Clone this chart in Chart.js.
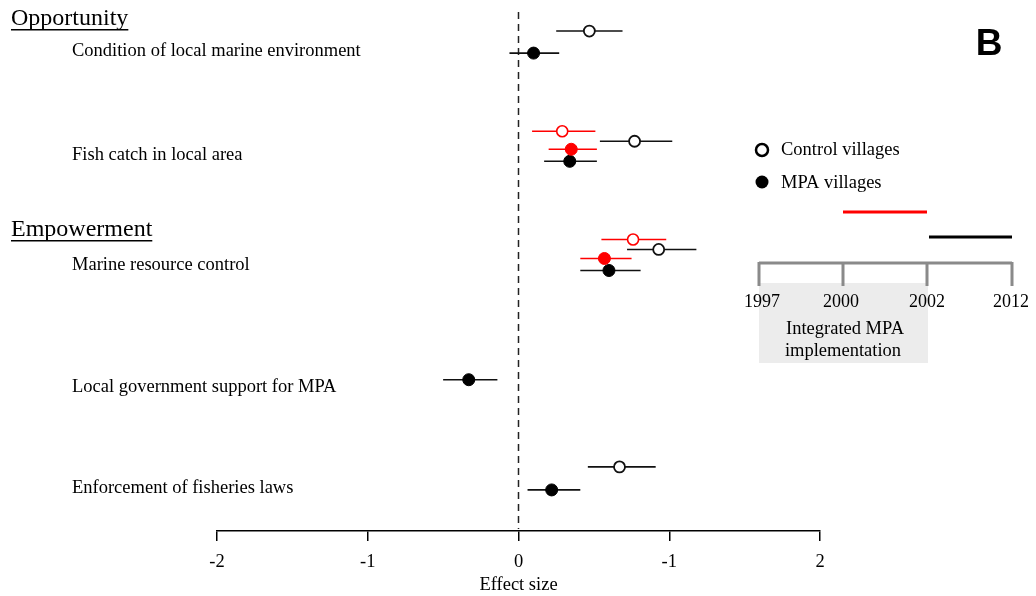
<!DOCTYPE html>
<html>
<head>
<meta charset="utf-8">
<script src="https://cdn.jsdelivr.net/npm/chart.js@4"></script>
<style>
  body { margin: 0; background: #fff; }
  #wrap { width: 1036px; height: 596px; position: relative; }
</style>
</head>
<body>
<div id="wrap"><canvas id="myChart"></canvas></div>
<script>
// Forest plot of effect sizes, control vs MPA villages

const categories = [
  "Condition of local marine environment",
  "Fish catch in local area",
  "Marine resource control",
  "Local government support for MPA",
  "Enforcement of fisheries laws",
];
const groupHeaders = ["Opportunity", "Empowerment"];

// black series (2012 survey)
const controlEst = [0.47, 0.77, 0.93, null, 0.67];
const controlLo = [0.25, 0.54, 0.72, null, 0.46];
const controlHi = [0.69, 1.02, 1.18, null, 0.91];
const mpaEst = [0.1, 0.34, 0.6, -0.33, 0.22];
const mpaLo = [-0.06, 0.17, 0.41, -0.5, 0.06];
const mpaHi = [0.27, 0.52, 0.81, -0.14, 0.41];

// red series (2000-2002)
const controlEarlyEst = [null, 0.29, 0.76, null, null];
const controlEarlyLo = [null, 0.09, 0.55, null, null];
const controlEarlyHi = [null, 0.51, 0.98, null, null];
const mpaEarlyEst = [null, 0.35, 0.57, null, null];
const mpaEarlyLo = [null, 0.2, 0.41, null, null];
const mpaEarlyHi = [null, 0.52, 0.75, null, null];

const xTickLabels = ["-2", "-1", "0", "-1", "2"];
const timelineYears = ["1997", "2000", "2002", "2012"];

// layout: row of each category on the (reversed) y scale, and each series' shift from it
const rowPos = [51, 155, 265, 386, 487];
const controlShift = [-20, -14, -16, 0, -21];
const mpaShift = [2, 6, 5, -7, 2];
const controlEarlyShift = [0, -24, -26, 0, 0];
const mpaEarlyShift = [0, -6, -7, 0, 0];

const RED = "#ff0000";
const serif = "'Liberation Serif', 'Times New Roman', serif";

function makePoints(est, lo, hi, shift) {
  const pts = [];
  est.forEach((v, i) => {
    if (v === null) return;
    pts.push({ x: v, y: rowPos[i] + shift[i], lo: lo[i], hi: hi[i] });
  });
  return pts;
}

const datasets = [
  {
    label: "Control villages (2000-2002)",
    data: makePoints(controlEarlyEst, controlEarlyLo, controlEarlyHi, controlEarlyShift),
    pointRadius: 5.5,
    pointBorderWidth: 1.6,
    pointBorderColor: RED,
    pointBackgroundColor: "#fff",
    barColor: RED,
  },
  {
    label: "Control villages",
    data: makePoints(controlEst, controlLo, controlHi, controlShift),
    pointRadius: 5.5,
    pointBorderWidth: 1.8,
    pointBorderColor: "#111",
    pointBackgroundColor: "#fff",
    barColor: "#111",
  },
  {
    label: "MPA villages (2000-2002)",
    data: makePoints(mpaEarlyEst, mpaEarlyLo, mpaEarlyHi, mpaEarlyShift),
    pointRadius: 6,
    pointBorderWidth: 1,
    pointBorderColor: RED,
    pointBackgroundColor: RED,
    barColor: RED,
  },
  {
    label: "MPA villages",
    data: makePoints(mpaEst, mpaLo, mpaHi, mpaShift),
    pointRadius: 6,
    pointBorderWidth: 1,
    pointBorderColor: "#000",
    pointBackgroundColor: "#000",
    barColor: "#111",
  },
];

// error bars + zero line, drawn through the scales
const errorBars = {
  id: "errorBars",
  beforeDatasetsDraw(chart) {
    const { ctx, scales } = chart;
    const x = scales.x;
    const y = scales.y;
    ctx.save();
    // dashed zero line
    ctx.strokeStyle = "#222";
    ctx.lineWidth = 1.5;
    ctx.setLineDash([7, 5]);
    ctx.beginPath();
    ctx.moveTo(x.getPixelForValue(0), y.getPixelForValue(12));
    ctx.lineTo(x.getPixelForValue(0), y.getPixelForValue(528));
    ctx.stroke();
    ctx.setLineDash([]);
    chart.data.datasets.forEach((ds) => {
      ctx.strokeStyle = ds.barColor;
      ctx.lineWidth = 1.6;
      ds.data.forEach((p) => {
        const py = y.getPixelForValue(p.y);
        ctx.beginPath();
        ctx.moveTo(x.getPixelForValue(p.lo), py);
        ctx.lineTo(x.getPixelForValue(p.hi), py);
        ctx.stroke();
      });
    });
    ctx.restore();
  },
};

// row labels, headers, legend and timeline inset
const annotations = {
  id: "annotations",
  afterDraw(chart) {
    const { ctx, scales } = chart;
    const y = scales.y;
    ctx.save();
    ctx.fillStyle = "#000";
    ctx.textBaseline = "middle";
    ctx.textAlign = "left";

    ctx.font = "24px " + serif;
    const headerY = [19, 230];
    groupHeaders.forEach((h, i) => {
      ctx.fillText(h, 11, headerY[i]);
      const w = ctx.measureText(h).width;
      ctx.fillRect(11, headerY[i] + 10, w, 1.5);
    });

    ctx.font = "18.5px " + serif;
    categories.forEach((c, i) => {
      ctx.fillText(c, 72, y.getPixelForValue(rowPos[i]));
    });

    // legend
    ctx.beginPath();
    ctx.arc(762, 150, 6, 0, Math.PI * 2);
    ctx.lineWidth = 2.5;
    ctx.strokeStyle = "#000";
    ctx.stroke();
    ctx.beginPath();
    ctx.arc(762, 182, 6.5, 0, Math.PI * 2);
    ctx.fill();
    ctx.fillText("Control villages", 781, 150);
    ctx.fillText("MPA villages", 781, 183);

    // timeline inset
    const tx = [759, 843, 927, 1012];
    const labelX = [762, 841, 927, 1011];
    ctx.fillStyle = "#ececec";
    ctx.fillRect(759, 283, 169, 80);
    ctx.lineWidth = 3;
    ctx.strokeStyle = RED;
    ctx.beginPath();
    ctx.moveTo(843, 212);
    ctx.lineTo(927, 212);
    ctx.stroke();
    ctx.strokeStyle = "#000";
    ctx.beginPath();
    ctx.moveTo(929, 237);
    ctx.lineTo(1012, 237);
    ctx.stroke();
    ctx.strokeStyle = "#8a8a8a";
    ctx.beginPath();
    ctx.moveTo(759, 263);
    ctx.lineTo(1012, 263);
    tx.forEach((v) => {
      ctx.moveTo(v, 262);
      ctx.lineTo(v, 286);
    });
    ctx.stroke();
    ctx.fillStyle = "#000";
    ctx.textAlign = "center";
    ctx.font = "18px " + serif;
    timelineYears.forEach((yr, i) => {
      ctx.fillText(yr, labelX[i], 302);
    });
    ctx.font = "18.5px " + serif;
    ctx.fillText("Integrated MPA", 845, 329);
    ctx.fillText("implementation", 843, 351);

    // panel letter
    ctx.font = "bold 37px 'Liberation Sans', Arial, sans-serif";
    ctx.fillText("B", 989, 45);
    ctx.restore();
  },
};

const config = {
  type: "scatter",
  data: { datasets: datasets },
  options: {
    responsive: true,
    maintainAspectRatio: false,
    animation: false,
    layout: { autoPadding: false, padding: { left: 217, right: 216, top: 0, bottom: 0 } },
    plugins: {
      legend: { display: false },
      tooltip: { enabled: false },
    },
    scales: {
      x: {
        type: "linear",
        min: -2,
        max: 2,
        grid: {
          drawOnChartArea: false,
          drawTicks: true,
          tickLength: 10,
          color: "#000",
          lineWidth: 1.5,
        },
        border: { display: true, color: "#000", width: 1.5 },
        ticks: {
          stepSize: 1,
          autoSkip: false,
          maxRotation: 0,
          padding: 12,
          color: "#000",
          font: { family: serif, size: 18.5, lineHeight: 1.0 },
          callback: (v) => xTickLabels[v + 2],
        },
        title: {
          display: true,
          text: "Effect size",
          color: "#000",
          font: { family: serif, size: 18.5, lineHeight: 1.0 },
          padding: { top: -8, bottom: 2 },
        },
      },
      y: {
        type: "linear",
        min: 0,
        max: 530,
        reverse: true,
        display: false,
      },
    },
  },
  plugins: [errorBars, annotations],
};

const chart = new Chart(document.querySelector("#myChart"), config);
</script>
</body>
</html>
